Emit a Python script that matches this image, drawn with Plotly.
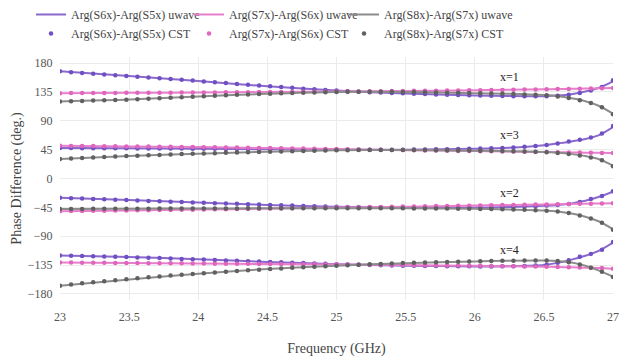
import plotly.graph_objects as go

# ---------------- data ----------------
LINE_F = [23, 23.5, 24, 24.5, 25, 25.5, 26, 26.25, 26.5, 26.6, 26.7, 26.8, 26.9, 27]

CST_F = [23.00, 23.08, 23.16, 23.24, 23.32, 23.40, 23.48, 23.56, 23.64, 23.72,
         23.80, 23.88, 23.96, 24.04, 24.12, 24.20, 24.28, 24.36, 24.44, 24.52,
         24.60, 24.68, 24.76, 24.84, 24.92, 25.00, 25.08, 25.16, 25.24, 25.32,
         25.40, 25.48, 25.56, 25.64, 25.72, 25.80, 25.88, 25.96, 26.04, 26.12,
         26.20, 26.28, 26.36, 26.44, 26.52, 26.60, 26.68, 26.76, 26.84, 26.92, 27.00]

# uwave (lines), groups x=1, x=3, x=2, x=4
uw_65_x1 = [167, 159.8, 152, 143.7, 137, 132.5, 129.4, 128.5, 128.4, 129.2, 131.3, 135.5, 141.5, 151.5]
uw_76_x1 = [133, 133.5, 134, 134.8, 135.5, 136.5, 137.5, 138.2, 139, 139.4, 139.8, 140.2, 140.6, 141]
uw_87_x1 = [120, 123, 128, 132.1, 135, 135, 133, 132, 130, 128.3, 125, 120.5, 113, 101]

uw_65_x3 = [47.5, 47, 46.5, 45.5, 45, 45, 46.4, 48, 52, 54.8, 57.8, 61.5, 67.5, 80]
uw_76_x3 = [51, 50, 49, 47.4, 45.8, 44.2, 42.7, 42, 41.3, 41, 40.7, 40.3, 40, 39.7]
uw_87_x3 = [30.4, 35, 38.7, 41.8, 44, 44.6, 43.4, 42.6, 41.2, 40, 38, 35, 30, 20]

uw_65_x2 = [-30, -33.7, -37.6, -41.2, -44, -45.3, -45.3, -44.4, -42.5, -41.2, -38.8, -34.8, -28.5, -20.5]
uw_76_x2 = [-51, -49.8, -48.5, -47, -45.3, -44, -42.2, -41.3, -40.5, -40.1, -39.7, -39.3, -38.9, -38.5]
uw_87_x2 = [-47.5, -47.1, -46.8, -46.5, -46.3, -46.5, -47.3, -48.2, -49.8, -51.3, -54.5, -59.5, -67, -79]

uw_65_x4 = [-120, -122.4, -126, -130, -133.5, -135.9, -137, -136.6, -134.8, -131.5, -126.5, -120.5, -112.5, -100]
uw_76_x4 = [-131, -131.7, -132.5, -133.3, -134, -135, -136, -136.7, -137.5, -138, -138.5, -139, -139.6, -140.5]
uw_87_x4 = [-167, -157.3, -148.5, -141, -135.9, -132, -129.2, -128.3, -128, -128.6, -131, -136, -143.5, -153]

# CST (markers)
cst_65_x1 = [167, 165.8, 164.6, 163.4, 162.2, 161, 159.8, 158.6, 157.4, 156.2,
             155, 153.8, 152.6, 151.4, 150.1, 148.8, 147.5, 146.2, 145, 143.7,
             142.5, 141.3, 140.1, 139, 138, 137, 136.1, 135.3, 134.6, 133.9,
             133.3, 132.7, 132.1, 131.6, 131.1, 130.6, 130.1, 129.7, 129.3, 129,
             128.7, 128.4, 128.2, 128.1, 128.4, 129, 130.5, 133.2, 137.2, 142.8, 153]
cst_76_x1 = [133, 133.1, 133.2, 133.2, 133.3, 133.4, 133.5, 133.6, 133.6, 133.7,
             133.8, 133.9, 134, 134.1, 134.2, 134.3, 134.4, 134.5, 134.7, 134.8,
             134.9, 135, 135.1, 135.3, 135.4, 135.5, 135.7, 135.8, 136, 136.1,
             136.3, 136.5, 136.6, 136.8, 136.9, 137.1, 137.3, 137.4, 137.6, 137.9,
             138.1, 138.3, 138.6, 138.8, 139.1, 139.4, 139.7, 140, 140.4, 140.7, 141]
cst_87_x1 = [120, 120.4, 120.9, 121.4, 121.9, 122.4, 122.9, 123.6, 124.4, 125.2,
             126, 126.8, 127.6, 128.3, 129, 129.7, 130.4, 131, 131.6, 132.1,
             132.7, 133.2, 133.7, 134.2, 134.6, 135, 135.1, 135.2, 135.2, 135.2,
             135.1, 135, 134.8, 134.5, 134.2, 133.8, 133.5, 133.2, 132.8, 132.4,
             132, 131.6, 131.1, 130.5, 129.7, 128, 125.3, 122, 117.5, 111, 100]

cst_65_x3 = [47.5, 47.4, 47.3, 47.2, 47.2, 47.1, 47, 46.9, 46.8, 46.8,
             46.7, 46.6, 46.5, 46.4, 46.3, 46.1, 45.9, 45.8, 45.6, 45.5,
             45.4, 45.3, 45.2, 45.1, 45, 45, 45, 45, 45, 45,
             45, 45, 45.1, 45.3, 45.5, 45.7, 45.9, 46.2, 46.6, 47.1,
             47.7, 48.5, 49.5, 50.8, 52.3, 54.6, 57.5, 60.5, 64, 70, 82]
cst_76_x3 = [51, 50.8, 50.7, 50.5, 50.4, 50.2, 50, 49.9, 49.7, 49.6,
             49.4, 49.2, 49.1, 48.9, 48.6, 48.4, 48.2, 47.9, 47.7, 47.4,
             47.2, 46.9, 46.7, 46.3, 46.1, 45.8, 45.5, 45.3, 45, 44.8,
             44.5, 44.3, 44, 43.8, 43.5, 43.3, 43, 42.8, 42.5, 42.3,
             42.1, 41.9, 41.7, 41.5, 41.2, 41, 40.7, 40.5, 40.2, 39.9, 39.7]
cst_87_x3 = [30.4, 31.3, 32.1, 32.9, 33.6, 34.3, 35, 35.6, 36.2, 36.8,
             37.4, 38, 38.5, 39, 39.5, 40, 40.5, 41, 41.4, 41.8,
             42.2, 42.6, 43, 43.4, 43.7, 44, 44.2, 44.4, 44.5, 44.6,
             44.6, 44.5, 44.4, 44.3, 44.1, 43.9, 43.7, 43.5, 43.3, 43.1,
             42.8, 42.5, 42.1, 41.6, 41, 39.8, 38.2, 35.8, 32.8, 28.5, 19]

cst_65_x2 = [-30, -30.6, -31.3, -31.9, -32.5, -33.1, -33.7, -34.3, -34.9, -35.6,
             -36.2, -36.8, -37.3, -37.9, -38.4, -39, -39.5, -40.1, -40.7, -41.2,
             -41.7, -42.2, -42.7, -43.1, -43.6, -44, -44.3, -44.6, -44.8, -45,
             -45.2, -45.4, -45.5, -45.6, -45.6, -45.6, -45.5, -45.4, -45.2, -45,
             -44.7, -44.3, -43.8, -43.1, -42.2, -41.2, -39.6, -36.5, -31.8, -27.2, -20]
cst_76_x2 = [-51, -50.8, -50.6, -50.4, -50.2, -50, -49.8, -49.6, -49.4, -49.2,
             -49, -48.8, -48.6, -48.4, -48.1, -47.9, -47.6, -47.4, -47.1, -46.9,
             -46.6, -46.3, -46.1, -45.8, -45.6, -45.3, -45, -44.8, -44.5, -44.3,
             -44, -43.8, -43.5, -43.3, -43, -42.8, -42.5, -42.3, -42, -41.8,
             -41.5, -41.2, -41, -40.7, -40.4, -40.1, -39.8, -39.5, -39.2, -38.8, -38.5]
cst_87_x2 = [-47.5, -47.4, -47.4, -47.3, -47.2, -47.2, -47.1, -47, -47, -46.9,
             -46.9, -46.8, -46.8, -46.7, -46.7, -46.6, -46.6, -46.5, -46.5, -46.5,
             -46.4, -46.4, -46.4, -46.3, -46.3, -46.3, -46.3, -46.3, -46.4, -46.4,
             -46.5, -46.5, -46.6, -46.7, -46.8, -46.9, -47, -47.2, -47.4, -47.7,
             -48, -48.4, -48.9, -49.4, -50.1, -51.3, -53.6, -57.8, -62.5, -69, -80]

cst_65_x4 = [-120, -120.4, -120.8, -121.2, -121.6, -122, -122.4, -123, -123.5, -124.1,
             -124.7, -125.3, -125.8, -126.4, -127.1, -127.7, -128.3, -128.9, -129.5, -130.1,
             -130.7, -131.3, -131.8, -132.4, -133, -133.5, -134, -134.4, -134.8, -135.2,
             -135.5, -135.9, -136.1, -136.3, -136.5, -136.7, -136.8, -136.9, -137, -137,
             -136.9, -136.7, -136.3, -135.6, -134.4, -131.5, -127.5, -122, -117.5, -111, -99]
cst_76_x4 = [-131, -131.1, -131.2, -131.4, -131.5, -131.6, -131.7, -131.8, -132, -132.1,
             -132.2, -132.3, -132.4, -132.6, -132.7, -132.8, -132.9, -133, -133.2, -133.3,
             -133.4, -133.5, -133.6, -133.8, -133.9, -134, -134.2, -134.3, -134.5, -134.6,
             -134.8, -135, -135.1, -135.3, -135.4, -135.6, -135.8, -135.9, -136.1, -136.4,
             -136.6, -136.8, -137.1, -137.3, -137.6, -137.9, -138.3, -138.7, -139.1, -139.6, -140.5]
cst_87_x4 = [-167, -165.2, -163.4, -161.7, -160.1, -158.5, -157, -155.5, -154.1, -152.7,
             -151.4, -150.1, -148.9, -147.7, -146.5, -145.4, -144.3, -143.2, -142.2, -141.2,
             -140.2, -139.3, -138.4, -137.5, -136.7, -135.9, -135.1, -134.4, -133.7, -133.1,
             -132.5, -131.9, -131.4, -130.9, -130.5, -130.1, -129.7, -129.3, -129, -128.7,
             -128.4, -128.2, -128, -127.9, -128, -128.5, -130.5, -134.2, -139, -145.5, -153.5]

GROUP_LABELS = ["x=1", "x=3", "x=2", "x=4"]
GROUP_LABEL_Y = [159, 68, -22, -111]
GROUP_LABEL_X = 26.25

Y_TICKS = [-180, -135, -90, -45, 0, 45, 90, 135, 180]
X_TICKS = [23, 23.5, 24, 24.5, 25, 25.5, 26, 26.5, 27]
X_TICK_TEXT = ["23", "23.5", "24", "24.5", "25", "25.5", "26", "26.5", "27"]

NAMES_UW = ["Arg(S6x)-Arg(S5x) uwave", "Arg(S7x)-Arg(S6x) uwave", "Arg(S8x)-Arg(S7x) uwave"]
NAMES_CST = ["Arg(S6x)-Arg(S5x) CST", "Arg(S7x)-Arg(S6x) CST", "Arg(S8x)-Arg(S7x) CST"]

# ---------------- style ----------------
LINE_COLORS = ["#8a68cc", "#e77fcb", "#8c8c8c"]
MARK_COLORS = ["#6f4fc4", "#e066bd", "#606060"]
FONT = "Liberation Serif"
LEGEND_IDS = ["legend", "legend2", "legend3"]
LEGEND_X = [-0.0524, 0.2333, 0.5136]

uw = [[uw_65_x1, uw_65_x3, uw_65_x2, uw_65_x4],
      [uw_76_x1, uw_76_x3, uw_76_x2, uw_76_x4],
      [uw_87_x1, uw_87_x3, uw_87_x2, uw_87_x4]]
cst = [[cst_65_x1, cst_65_x3, cst_65_x2, cst_65_x4],
       [cst_76_x1, cst_76_x3, cst_76_x2, cst_76_x4],
       [cst_87_x1, cst_87_x3, cst_87_x2, cst_87_x4]]

fig = go.Figure()

for s in range(3):
    for g in range(4):
        fig.add_trace(go.Scatter(
            x=LINE_F, y=uw[s][g], mode="lines",
            line=dict(color=LINE_COLORS[s], width=2, shape="spline", smoothing=0.8),
            name=NAMES_UW[s], legend=LEGEND_IDS[s], showlegend=(g == 0),
            legendrank=1))
for s in range(3):
    for g in range(4):
        fig.add_trace(go.Scatter(
            x=CST_F, y=cst[s][g], mode="markers",
            marker=dict(color=MARK_COLORS[s], size=4.5),
            name=NAMES_CST[s], legend=LEGEND_IDS[s], showlegend=(g == 0),
            legendrank=2))

for lab, yv in zip(GROUP_LABELS, GROUP_LABEL_Y):
    fig.add_annotation(x=GROUP_LABEL_X, y=yv, text=lab, showarrow=False,
                       font=dict(family=FONT, size=12, color="#222"))

leg_common = dict(orientation="v", y=1.2346, xanchor="left", yanchor="top",
                  font=dict(family=FONT, size=12, color="#444"),
                  bgcolor="rgba(0,0,0,0)", tracegroupgap=0)

fig.update_layout(
    width=619, height=362,
    margin=dict(l=60, r=6, t=57, b=62, autoexpand=False),
    paper_bgcolor="white", plot_bgcolor="white",
    font=dict(family=FONT, size=12, color="#444"),
    legend=dict(x=LEGEND_X[0], **leg_common),
    legend2=dict(x=LEGEND_X[1], **leg_common),
    legend3=dict(x=LEGEND_X[2], **leg_common),
    xaxis=dict(range=[23, 27], tickvals=X_TICKS, ticktext=X_TICK_TEXT,
               showgrid=True, gridcolor="#ebebeb", zeroline=False, showline=False,
               ticks="outside", ticklen=6, tickcolor="rgba(0,0,0,0)",
               tickfont=dict(family=FONT, size=12, color="#555"),
               title=dict(text="Frequency (GHz)", standoff=19,
                          font=dict(family=FONT, size=14, color="#444"))),
    yaxis=dict(range=[-189.4, 189.4], tickvals=Y_TICKS,
               showgrid=True, gridcolor="#ebebeb", zeroline=False, showline=False,
               ticks="outside", ticklen=4, tickcolor="rgba(0,0,0,0)",
               tickfont=dict(family=FONT, size=12, color="#555"),
               title=dict(text="Phase Difference (deg.)", standoff=2,
                          font=dict(family=FONT, size=14, color="#444"))),
)

fig.write_html("out.html")
